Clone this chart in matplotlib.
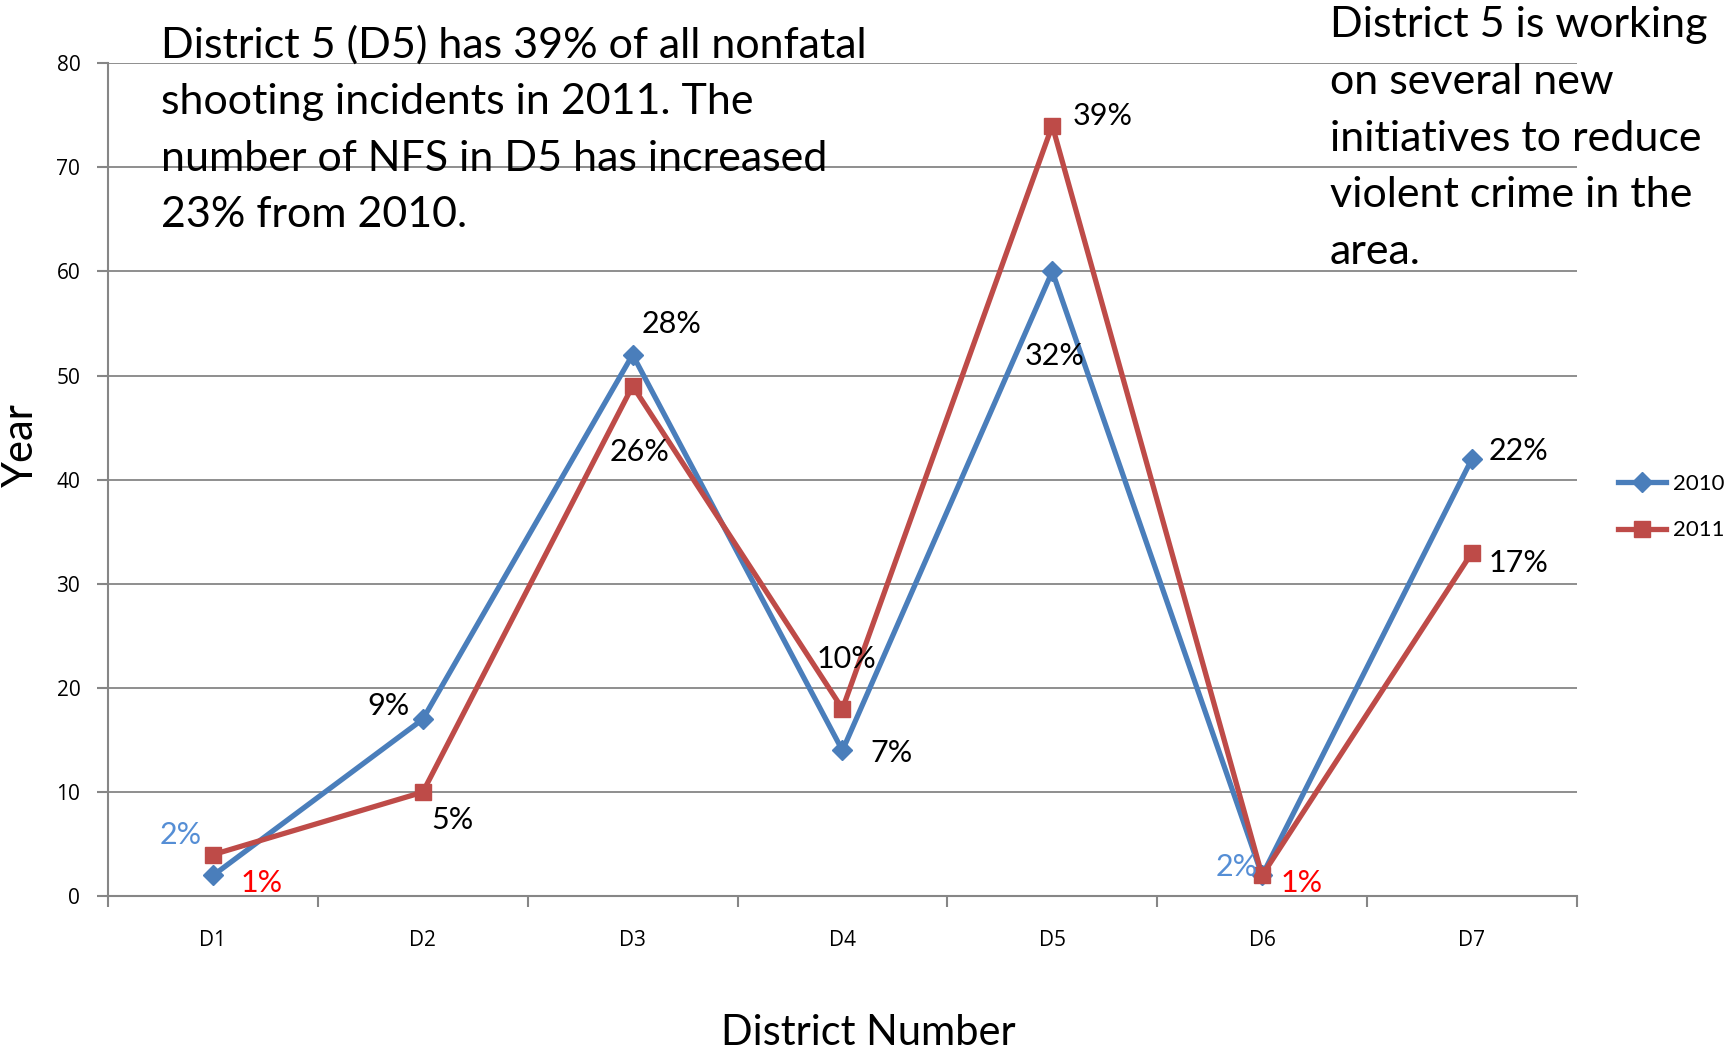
import matplotlib
matplotlib.use('Agg')
import matplotlib.pyplot as plt
import numpy as np

plt.rcParams['font.family'] = ['Lato', 'DejaVu Sans']

# data
districts = ['D1', 'D2', 'D3', 'D4', 'D5', 'D6', 'D7']
nfs_2010 = [2, 17, 52, 14, 60, 2, 42]
nfs_2011 = [4, 10, 49, 18, 74, 2, 33]
pct_2010 = ['2%', '9%', '28%', '7%', '32%', '2%', '22%']
pct_2011 = ['1%', '5%', '26%', '10%', '39%', '1%', '17%']

# label offsets (pixels) and colours
off_2010 = [(-32, 40), (-34, 13), (39, 31), (49, -3), (2, -85), (-25, 8), (47, 8)]
off_2011 = [(49, -28), (30, -28), (7, -66), (4, 50), (50, 10), (40, -8), (47, -10)]
col_2010 = ['#558ED5', 'black', 'black', 'black', 'black', '#558ED5', 'black']
col_2011 = ['#FF0000', 'black', 'black', 'black', 'black', '#FF0000', 'black']

blue = '#4A7EBB'
red = '#BE4B48'

fig = plt.figure(figsize=(17.29, 10.52), dpi=100)
ax = fig.add_axes([0.0625, 0.148, 0.8495, 0.792])

x = np.arange(len(districts))
ax.plot(x, nfs_2010, color=blue, lw=3.8, marker='D', ms=10, label='2010', zorder=3)
ax.plot(x, nfs_2011, color=red, lw=3.8, marker='s', ms=12, label='2011', zorder=3)

for i in range(len(x)):
    ax.annotate(pct_2010[i], (x[i], nfs_2010[i]), xytext=off_2010[i],
                textcoords='offset pixels', ha='center', va='center',
                fontsize=22, color=col_2010[i], zorder=4)
    ax.annotate(pct_2011[i], (x[i], nfs_2011[i]), xytext=off_2011[i],
                textcoords='offset pixels', ha='center', va='center',
                fontsize=22, color=col_2011[i], zorder=4)

ax.set_xlim(-0.5, 6.5)
ax.set_ylim(0, 80)
ax.set_yticks(range(0, 81, 10))
ax.set_xticks(x)
ax.set_xticklabels(districts)
ax.set_xticks(np.arange(-0.5, 7, 1), minor=True)
ax.tick_params(axis='x', which='major', length=0, pad=24, labelsize=15)
ax.tick_params(axis='x', which='minor', length=8, color='#868686', width=1.5)
ax.tick_params(axis='y', length=8, color='#868686', width=1.5, labelsize=15, pad=12)
for lab in ax.get_xticklabels() + ax.get_yticklabels():
    lab.set_family(['Open Sans', 'DejaVu Sans'])

ax.grid(axis='y', color='#868686', lw=1.3)
ax.set_axisbelow(True)
for s in ['top', 'right']:
    ax.spines[s].set_visible(False)
for s in ['left', 'bottom']:
    ax.spines[s].set_color('#868686')
    ax.spines[s].set_linewidth(1.5)

fig.text(0.012, 0.577, 'Year', rotation=90, ha='center', va='center', fontsize=30)
fig.text(0.502, 0.018, 'District Number', ha='center', va='center', fontsize=30)

fig.text(0.093, 0.976, 'District 5 (D5) has 39% of all nonfatal\nshooting incidents in 2011. The\n'
         'number of NFS in D5 has increased\n23% from 2010.',
         ha='left', va='top', fontsize=31, linespacing=1.6)
fig.text(0.769, 0.994, 'District 5 is working\non several new\ninitiatives to reduce\n'
         'violent crime in the\narea.',
         ha='left', va='top', fontsize=31, linespacing=1.6)

fig.legend(loc='center left', bbox_to_anchor=(0.924, 0.518), frameon=False,
           fontsize=16, handlelength=2.2, handletextpad=0.3, labelspacing=1.2)

fig.savefig('out.png', dpi=100)
